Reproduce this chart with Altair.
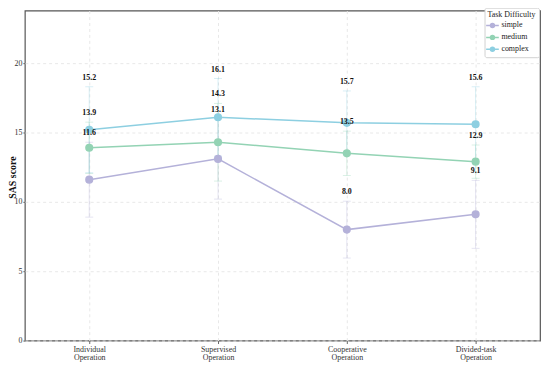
import altair as alt
import pandas as pd

categories = ["Individual Operation", "Supervised Operation", "Cooperative Operation", "Divided-task Operation"]
levels = ["simple", "medium", "complex"]
colors = ["#b4b1d9", "#93d3b4", "#8dcfe1"]

simple_mean = [11.6, 13.1, 8.0, 9.1]
simple_sd = [2.7, 2.9, 2.05, 2.45]
medium_mean = [13.9, 14.3, 13.5, 12.9]
medium_sd = [1.85, 2.8, 1.6, 1.2]
complex_mean = [15.2, 16.1, 15.7, 15.6]
complex_sd = [3.1, 2.8, 2.3, 2.7]

rows = []
for lvl, means, sds in [("simple", simple_mean, simple_sd),
                        ("medium", medium_mean, medium_sd),
                        ("complex", complex_mean, complex_sd)]:
    for c, m, s in zip(categories, means, sds):
        rows.append({"condition": c, "difficulty": lvl, "mean": m,
                     "lo": m - s, "hi": m + s, "label": f"{m:.1f}"})
df = pd.DataFrame(rows)

FONT = "Liberation Serif"

x = alt.X("condition:N", sort=categories, title=None,
          scale=alt.Scale(type="point", padding=0.5),
          axis=alt.Axis(labelExpr="split(datum.label, ' ')", labelAngle=0,
                        labelFont=FONT, labelFontSize=8, labelColor="#333",
                        tickSize=3, tickColor="#666", labelPadding=2,
                        labelLineHeight=8.5,
                        grid=True, gridDash=[3, 3], gridColor="#e8e8e8",
                        domain=False))
yscale = alt.Scale(domain=[0, 23.79], nice=False, zero=True)
cscale = alt.Scale(domain=levels, range=colors)

legend_symbol = ("M -1.6 0 L 1.6 0 "
                 "M 0.5 0 A 0.5 0.5 0 1 1 -0.5 0 A 0.5 0.5 0 1 1 0.5 0")
leg = alt.Legend(title="Task Difficulty", orient="none", legendX=464, legendY=-3,
                 padding=3, strokeColor="#d0d0d0", fillColor="white", cornerRadius=2,
                 titleFont=FONT, titleFontSize=8, titleFontWeight="normal",
                 titleColor="#222", titlePadding=2,
                 labelFont=FONT, labelFontSize=8, labelColor="#222", labelOffset=4,
                 symbolType=legend_symbol, symbolSize=64, symbolStrokeWidth=1.5,
                 symbolOpacity=1, rowPadding=2)

col = alt.Color("difficulty:N", sort=levels, scale=cscale, legend=leg)

base = alt.Chart(df)

err = base.mark_rule(strokeWidth=1, opacity=0.35).encode(
    x=x,
    y=alt.Y("lo:Q", scale=yscale,
            axis=alt.Axis(values=[0, 5, 10, 15, 20], title="SAS score",
                          titleFont=FONT, titleFontSize=10, titleFontWeight="bold",
                          titleColor="#111", titleX=-12, titleY=168,
                          titleAngle=-90, titleAlign="center", titleBaseline="middle",
                          labelFont=FONT, labelFontSize=8, labelColor="#333",
                          tickSize=2, tickColor="#666", labelPadding=1,
                          grid=True, gridDash=[3, 3], gridColor="#e8e8e8",
                          domain=False)),
    y2="hi:Q",
    color=col,
)
cap_lo = base.mark_tick(size=8, thickness=1, opacity=0.35, orient="horizontal").encode(
    x=x, y=alt.Y("lo:Q", scale=yscale), color=col,
)
cap_hi = base.mark_tick(size=8, thickness=1, opacity=0.35, orient="horizontal").encode(
    x=x, y=alt.Y("hi:Q", scale=yscale), color=col,
)
lines = base.mark_line(strokeWidth=1.5).encode(
    x=x, y=alt.Y("mean:Q", scale=yscale), color=col, detail="difficulty:N",
)
points = base.mark_point(filled=True, size=45, opacity=1, strokeWidth=1.5).encode(
    x=x, y=alt.Y("mean:Q", scale=yscale),
    color=col,
    stroke=alt.Stroke("difficulty:N", sort=levels, scale=cscale, legend=leg),
)
labels = base.mark_text(font=FONT, fontSize=8, fontWeight="bold", color="#111",
                        baseline="bottom", dy=-5).encode(
    x=x, y=alt.Y("hi:Q", scale=yscale), text="label:N",
)

chart = alt.layer(err, cap_lo, cap_hi, lines, points, labels).properties(
    width=520, height=333,
    autosize=alt.AutoSizeParams(type="none"),
    padding={"left": 17, "top": 1, "right": 2, "bottom": 22},
).configure_view(
    stroke="#555", strokeWidth=1.2
)

chart.save("out.html", embed_options={"renderer": "svg", "actions": False})
